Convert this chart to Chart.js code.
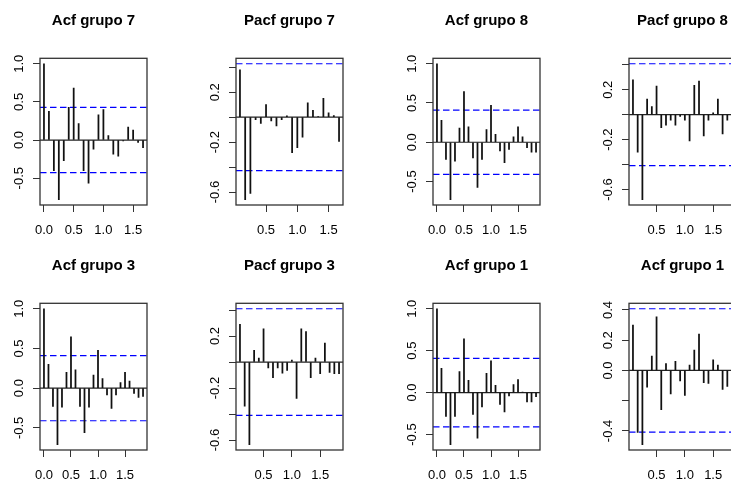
<!DOCTYPE html>
<html>
<head>
<meta charset="utf-8">
<script src="https://cdn.jsdelivr.net/npm/chart.js@4.4.0/dist/chart.umd.min.js"></script>
<style>
  html, body { margin: 0; padding: 0; background: #fff; overflow: hidden; }
  body { width: 731px; height: 481px; position: relative; }
  canvas { position: absolute; }
</style>
</head>
<body>
<script>
// titles, one per panel (2 rows x 4 columns)
const titles = ['Acf grupo 7', 'Pacf grupo 7', 'Acf grupo 8', 'Pacf grupo 8',
                'Acf grupo 3', 'Pacf grupo 3', 'Acf grupo 1', 'Acf grupo 1'];

// autocorrelations (lag k / 12)
const acf7 = [1.0, 0.375, -0.40, -0.78, -0.27, 0.43, 0.68, 0.215, -0.40, -0.565, -0.12,
              0.33, 0.40, 0.06, -0.185, -0.21, -0.01, 0.17, 0.13, -0.03, -0.10];
const pacf7 = [0.38, -0.66, -0.61, -0.02, -0.05, 0.10, -0.03, -0.07, -0.02, 0.01,
               -0.285, -0.245, -0.16, 0.115, 0.055, 0.005, 0.15, 0.035, 0.012, -0.195];
const acf8 = [1.0, 0.28, -0.22, -0.73, -0.24, 0.18, 0.645, 0.195, -0.20, -0.575, -0.22, 0.16,
              0.47, 0.10, -0.11, -0.26, -0.09, 0.07, 0.195, 0.07, -0.07, -0.125, -0.125];
const pacf8 = [0.28, -0.30, -0.68, 0.125, 0.065, 0.23, -0.105, -0.085, -0.045, -0.085, -0.015,
               -0.045, -0.21, 0.235, 0.27, -0.17, -0.045, 0.015, 0.125, -0.155, -0.045, -0.05];
const acf3 = [1.0, 0.30, -0.23, -0.71, -0.24, 0.20, 0.645, 0.23, -0.23, -0.56, -0.24, 0.165,
              0.475, 0.12, -0.085, -0.255, -0.085, 0.07, 0.20, 0.09, -0.065, -0.115, -0.105];
const pacf3 = [0.29, -0.34, -0.635, 0.09, 0.03, 0.255, -0.045, -0.12, -0.045, -0.085, -0.065,
               0.015, -0.28, 0.255, 0.235, -0.12, 0.03, -0.09, 0.145, -0.08, -0.09, -0.09];
const acf1 = [1.0, 0.29, -0.285, -0.62, -0.285, 0.25, 0.64, 0.145, -0.26, -0.545, -0.17, 0.23,
              0.38, 0.085, -0.14, -0.23, -0.04, 0.095, 0.155, 0.005, -0.11, -0.11, -0.05];
const pacf1 = [0.30, -0.41, -0.49, -0.11, 0.095, 0.355, -0.26, 0.045, -0.155, 0.06, -0.07,
               -0.165, 0.035, 0.135, 0.24, -0.08, -0.085, 0.07, 0.035, -0.125, -0.105, -0.05];

const panelValues = [acf7, pacf7, acf8, pacf8, acf3, pacf3, acf1, pacf1];
const firstLag = [0, 1, 0, 1, 0, 1, 0, 1];
// blue dashed bounds (+/-)
const bounds = [0.428, 0.428, 0.408, 0.408, 0.41, 0.41, 0.408, 0.408];

// tick values and the labels R kept
const acfTicks = [-0.5, 0, 0.5, 1];
const pacfTicks = [-0.6, -0.4, -0.2, 0, 0.2, 0.4];
const pacfTicksSmall = [-0.4, -0.2, 0, 0.2, 0.4];
const yTicks = [acfTicks, pacfTicks, acfTicks, pacfTicks, acfTicks, pacfTicks, acfTicks, pacfTicksSmall];
const yShown = [acfTicks, [-0.6, -0.2, 0.2], acfTicks, [-0.6, -0.2, 0.2],
                acfTicks, [-0.6, -0.2, 0.2], acfTicks, [-0.4, 0, 0.2, 0.4]];
const acfLagTicks = [0, 0.5, 1, 1.5];
const pacfLagTicks = [0.5, 1, 1.5];

const colLeft = [0, 196, 393, 589];
const rowTop = [0, 245];
const W = 187, H = 245;
const FONT = "'Liberation Sans', Arial, sans-serif";

const frame = {
    id: 'frame',
    afterDatasetsDraw(chart) {
        const a = chart.chartArea, ctx = chart.ctx;
        ctx.save();
        ctx.strokeStyle = '#333';
        ctx.lineWidth = 1.3;
        ctx.strokeRect(a.left, a.top, a.right - a.left, a.bottom - a.top);
        ctx.restore();
    }
};

// R style 4% padding around the data range
function padRange(lo, hi) {
    const d = (hi - lo) * 0.04;
    return [lo - d, hi + d];
}

panelValues.forEach(function (vals, i) {
    const col = i % 4, row = Math.floor(i / 4);
    const cv = document.createElement('canvas');
    cv.width = W; cv.height = H;
    cv.style.left = colLeft[col] + 'px';
    cv.style.top = rowTop[row] + 'px';
    document.body.appendChild(cv);

    const lags = vals.map((v, k) => (firstLag[i] + k) / 12);
    const c = bounds[i];
    const [xmin, xmax] = padRange(lags[0], lags[lags.length - 1]);
    const [ymin, ymax] = padRange(Math.min(-c, ...vals), Math.max(c, ...vals));
    const xt = firstLag[i] === 0 ? acfLagTicks : pacfLagTicks;
    const shown = yShown[i];

    const hline = (y, color, dash) => ({
        type: 'line',
        data: [{x: xmin, y: y}, {x: xmax, y: y}],
        borderColor: color,
        borderWidth: 1.2,
        borderDash: dash,
        pointRadius: 0,
        fill: false
    });

    new Chart(cv, {
        type: 'bar',
        data: {
            datasets: [
                {
                    type: 'bar',
                    data: vals.map((v, k) => ({x: lags[k], y: v})),
                    backgroundColor: '#111',
                    barThickness: 1.1
                },
                hline(0, '#222', []),
                hline(c, '#0000ff', [6.5, 3.5]),
                hline(-c, '#0000ff', [6.5, 3.5])
            ]
        },
        options: {
            responsive: false,
            animation: false,
            layout: { padding: { left: 0, right: W - 40 - 107, top: 0, bottom: 0 } },
            plugins: {
                legend: { display: false },
                tooltip: { enabled: false },
                title: {
                    display: true,
                    text: titles[i],
                    fullSize: false,
                    color: '#000',
                    font: { family: FONT, size: 15, weight: 'bold' },
                    padding: { top: 12, bottom: 28.3 }
                }
            },
            scales: {
                x: {
                    type: 'linear',
                    min: xmin,
                    max: xmax,
                    offset: false,
                    border: { display: false },
                    grid: { offset: false, drawOnChartArea: false, drawTicks: true, tickLength: 7, color: '#333' },
                    ticks: {
                        autoSkip: false, maxRotation: 0, padding: 11, color: '#000',
                        font: { family: FONT, size: 13 },
                        callback: v => v.toFixed(1)
                    },
                    afterBuildTicks: s => { s.ticks = xt.map(v => ({value: v})); },
                    afterFit: s => { s.height = 40; }
                },
                y: {
                    type: 'linear',
                    min: ymin,
                    max: ymax,
                    border: { display: false },
                    grid: { drawOnChartArea: false, drawTicks: true, tickLength: 7, color: '#333' },
                    ticks: {
                        autoSkip: false, minRotation: 90, maxRotation: 90, crossAlign: 'center',
                        padding: 2, color: '#000',
                        font: { family: FONT, size: 13 },
                        callback: v => shown.includes(v) ? v.toFixed(1) : ''
                    },
                    afterBuildTicks: s => { s.ticks = yTicks[i].map(v => ({value: v})); },
                    afterFit: s => { s.width = 40; }
                }
            }
        },
        plugins: [frame]
    });
});
</script>
</body>
</html>
